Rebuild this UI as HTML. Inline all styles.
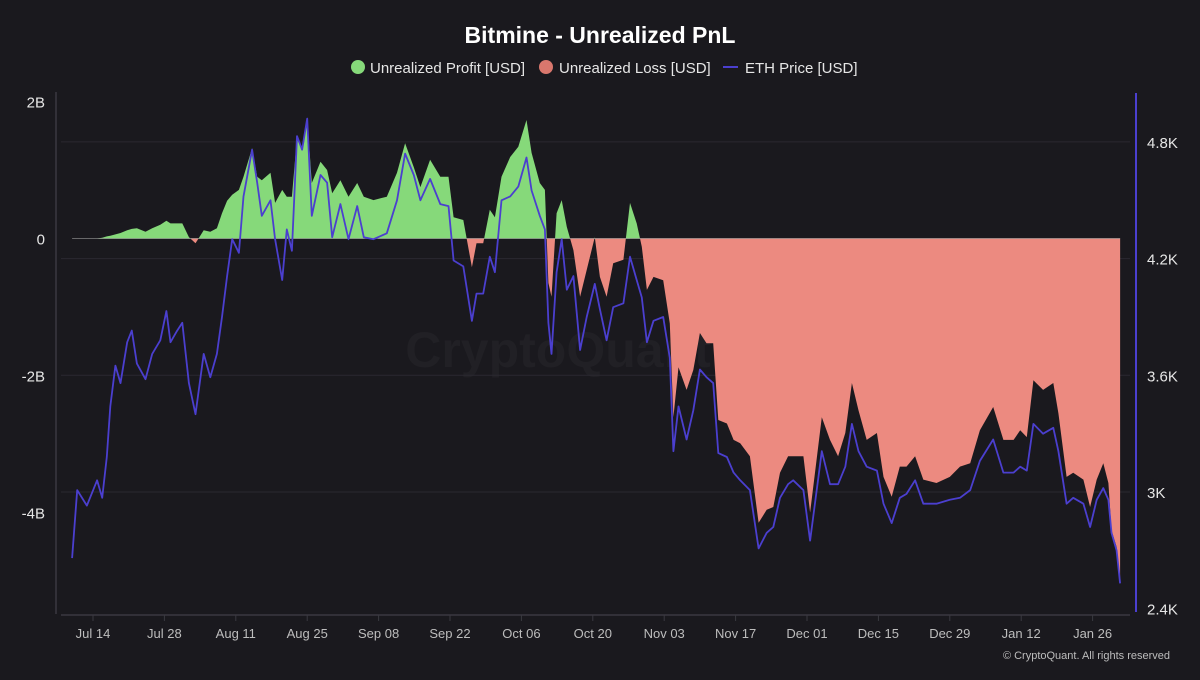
<!DOCTYPE html>
<html><head><meta charset="utf-8"><style>
html,body{margin:0;padding:0;background:#1a191e;}
body{width:1200px;height:675px;overflow:hidden;font-family:"Liberation Sans",sans-serif;}
svg text{font-family:"Liberation Sans",sans-serif;}
</style></head><body>
<svg id="chart" width="1200" height="675" viewBox="0 0 1200 675" xmlns="http://www.w3.org/2000/svg">
<rect width="1200" height="675" fill="#1a191e"/>
<text x="600" y="43" text-anchor="middle" font-size="23" font-weight="bold" fill="#ffffff">Bitmine - Unrealized PnL</text>
<g>
<g><circle cx="358" cy="67" r="7" fill="#86d97a"/><text x="370" y="73" font-size="15" fill="#e6e6e6">Unrealized Profit [USD]</text></g>
<g><circle cx="546" cy="67" r="7" fill="#d9776d"/><text x="559" y="73" font-size="15" fill="#e6e6e6">Unrealized Loss [USD]</text></g>
<g><line x1="723" y1="67" x2="738" y2="67" stroke="#4b3fcf" stroke-width="2"/><text x="745" y="73" font-size="15" fill="#e6e6e6">ETH Price [USD]</text></g>
</g>
<text x="558" y="367" text-anchor="middle" font-size="50" font-weight="bold" fill="#212025">CryptoQuant</text>
<g id="grid"></g><g id="marks"></g><g id="axes"></g>
<text x="1170" y="659" text-anchor="end" font-size="11" fill="#bdbdbd">© CryptoQuant. All rights reserved</text>
</svg>
<script>
// day offsets relative to Jul 14
const days=[-4.1,-3.1,-1.2,0.8,1.8,2.7,3.4,4.4,5.4,6.7,7.6,8.6,10.3,11.6,13.2,14.4,15.2,16.5,17.5,18.8,20.1,21.7,23.0,24.3,25.3,26.3,27.3,28.6,29.5,31.2,32.2,33.1,34.8,35.7,37.1,38.0,39.0,40.0,41.0,42.0,42.9,44.6,45.9,46.9,48.5,50.1,51.8,53.1,55.0,57.6,59.6,61.2,62.9,64.2,66.1,68.1,69.7,70.7,72.6,74.3,75.2,76.5,77.8,78.8,80.1,81.8,83.4,85.0,86.0,87.6,88.6,89.3,89.9,90.9,91.9,92.9,94.2,95.5,96.8,98.4,99.4,100.7,102.0,104.0,105.3,106.6,107.6,108.6,109.9,111.8,113.1,113.8,114.8,116.4,117.7,119.0,120.3,121.6,122.6,124.3,125.6,126.9,128.8,130.5,132.1,133.4,134.7,136.3,137.3,139.3,140.6,142.9,144.5,146.1,147.5,148.8,150.1,151.7,153.7,155.0,156.6,158.2,159.5,161.2,162.8,165.4,168.0,170.0,172.0,173.9,176.5,178.5,180.5,181.8,183.1,184.4,186.3,188.3,189.3,190.9,192.2,194.2,195.5,196.8,198.1,199.1,199.7,200.7,201.4];
// ETH price in K USD
const ethPrice=[2.66,3.01,2.93,3.06,2.97,3.18,3.44,3.65,3.56,3.77,3.83,3.66,3.58,3.71,3.78,3.93,3.77,3.83,3.87,3.56,3.40,3.71,3.59,3.71,3.90,4.11,4.30,4.23,4.52,4.76,4.59,4.42,4.50,4.30,4.09,4.35,4.24,4.83,4.76,4.92,4.42,4.63,4.59,4.31,4.48,4.30,4.47,4.31,4.30,4.33,4.50,4.74,4.63,4.50,4.61,4.48,4.47,4.19,4.16,3.88,4.02,4.02,4.21,4.13,4.50,4.52,4.57,4.72,4.55,4.42,4.35,3.87,3.71,4.13,4.30,4.04,4.11,3.73,3.90,4.07,3.94,3.78,3.95,3.97,4.21,4.09,4.00,3.77,3.88,3.90,3.69,3.21,3.44,3.27,3.42,3.63,3.59,3.56,3.20,3.18,3.10,3.06,3.01,2.71,2.79,2.82,2.97,3.04,3.06,3.01,2.75,3.21,3.04,3.04,3.13,3.35,3.21,3.13,3.11,2.94,2.84,2.97,2.99,3.06,2.94,2.94,2.96,2.97,3.01,3.16,3.27,3.10,3.10,3.13,3.11,3.35,3.30,3.33,3.21,2.94,2.97,2.94,2.82,2.96,3.02,2.96,2.79,2.70,2.53];
// Unrealized PnL in B USD
const pnlValues=[0,0,0,0,0.01,0.03,0.04,0.06,0.08,0.12,0.14,0.15,0.10,0.15,0.20,0.26,0.22,0.22,0.22,0.02,-0.07,0.12,0.10,0.15,0.37,0.55,0.64,0.71,0.90,1.32,0.90,0.85,0.96,0.52,0.71,0.61,0.61,1.48,1.29,1.77,0.81,1.12,1.00,0.66,0.85,0.61,0.81,0.61,0.56,0.61,0.96,1.39,1.04,0.75,1.15,0.90,0.90,0.31,0.27,-0.42,-0.07,-0.07,0.42,0.31,0.90,1.19,1.34,1.73,1.25,0.81,0.71,-0.65,-0.85,0.37,0.56,0.17,-0.17,-0.85,-0.46,0.02,-0.56,-0.85,-0.36,-0.31,0.52,0.22,-0.12,-0.75,-0.56,-0.61,-1.24,-2.61,-1.88,-2.21,-1.92,-1.38,-1.53,-1.53,-2.65,-2.70,-2.94,-2.99,-3.18,-4.15,-3.96,-3.92,-3.42,-3.18,-3.18,-3.18,-4.00,-2.61,-2.94,-3.18,-2.84,-2.11,-2.51,-2.94,-2.84,-3.48,-3.77,-3.33,-3.33,-3.18,-3.52,-3.57,-3.48,-3.33,-3.28,-2.80,-2.46,-2.94,-2.94,-2.80,-2.90,-2.07,-2.21,-2.11,-2.55,-3.48,-3.42,-3.52,-3.92,-3.52,-3.28,-3.57,-4.26,-4.50,-5.02];
const xTickLabels=["Jul 14","Jul 28","Aug 11","Aug 25","Sep 08","Sep 22","Oct 06","Oct 20","Nov 03","Nov 17","Dec 01","Dec 15","Dec 29","Jan 12","Jan 26"];
const leftTicks=[2,0,-2,-4];
const leftTickLabels=["2B","0","-2B","-4B"];
const rightTicks=[4.8,4.2,3.6,3.0,2.4];
const rightTickLabels=["4.8K","4.2K","3.6K","3K","2.4K"];

const NS="http://www.w3.org/2000/svg";
const X0=93, PXDAY=71.4/14;
function xScale(d){return X0+d*PXDAY;}
function yLeft(v){return 238.5-v*68.5;}
function yRight(v){return 608.7-(v-2.4)*194.5;}
function mk(tag,attrs,parent){const e=document.createElementNS(NS,tag);for(const k in attrs)e.setAttribute(k,attrs[k]);parent.appendChild(e);return e;}
const grid=document.getElementById('grid'),marks=document.getElementById('marks'),axes=document.getElementById('axes');

rightTicks.forEach((t,i)=>{
  if(i<rightTicks.length-1){
    const g=mk('line',{x1:61,x2:1130,y1:yRight(t),y2:yRight(t),stroke:'#2a2930','stroke-width':1},grid);
    
    
  }
  const tx=mk('text',{x:1147,y:yRight(t)+6,'font-size':15,fill:'#e6e6e6'},axes);
  tx.textContent=rightTickLabels[i];
  
  
});
leftTicks.forEach((t,i)=>{
  const tx=mk('text',{x:45,y:yLeft(t)+6,'font-size':15,fill:'#e6e6e6','text-anchor':'end'},axes);
  tx.textContent=leftTickLabels[i];
  
  
});
xTickLabels.forEach((l,i)=>{
  const x=xScale(i*14);
  const tk=mk('line',{x1:x,x2:x,y1:615,y2:621,stroke:'#3a3940'},axes);
  
  
  const tx=mk('text',{x:x,y:638,'font-size':13,fill:'#bdbdbd','text-anchor':'middle'},axes);
  tx.textContent=l;
  
  
});
const la=mk('line',{x1:56,x2:56,y1:92,y2:614,stroke:'#3a3940','stroke-width':1.5},axes);


const xa=mk('line',{x1:61,x2:1130,y1:615,y2:615,stroke:'#3a3940','stroke-width':1.5},axes);


const ra=mk('line',{x1:1136,x2:1136,y1:93,y2:612,stroke:'#4b3fcf','stroke-width':2},axes);



// area
const z=yLeft(0);
let d='M'+xScale(days[0])+','+z;
days.forEach((dd,i)=>{d+=' L'+xScale(dd).toFixed(1)+','+yLeft(pnlValues[i]).toFixed(1);});
d+=' L'+xScale(days[days.length-1])+','+z+' Z';
const defs=mk('defs',{},marks);
const cp1=mk('clipPath',{id:'above'},defs);mk('rect',{x:0,y:0,width:1200,height:z},cp1);
const cp2=mk('clipPath',{id:'below'},defs);mk('rect',{x:0,y:z,width:1200,height:700},cp2);
const pa=mk('path',{d:d,fill:'#86d97a','clip-path':'url(#above)'},marks);


const pl=mk('path',{d:d,fill:'#ec8a80','clip-path':'url(#below)'},marks);


const zl=mk('line',{x1:xScale(days[0]),x2:xScale(days[days.length-1]),y1:z,y2:z,stroke:'#c8c8c8','stroke-width':0.8,opacity:0.6},marks);


// eth line
let ld='';
days.forEach((dd,i)=>{ld+=(i?' L':'M')+xScale(dd).toFixed(1)+','+yRight(ethPrice[i]).toFixed(1);});
const el=mk('path',{d:ld,fill:'none',stroke:'#4b3fcf','stroke-width':1.8,'stroke-linejoin':'round'},marks);


</script>
</body></html>
